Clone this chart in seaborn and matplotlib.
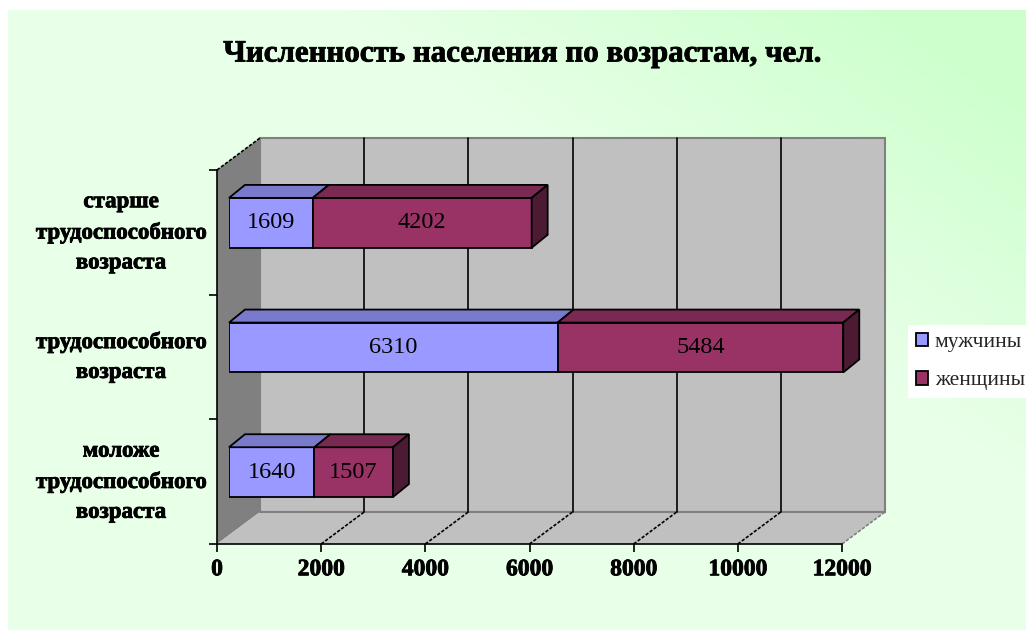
import numpy as np
import pandas as pd
import matplotlib
matplotlib.use('Agg')
import matplotlib.pyplot as plt
import matplotlib.patheffects as pe
from matplotlib.patches import Polygon
from matplotlib.transforms import IdentityTransform
import seaborn as sns

# Data
categories = ['старше\nтрудоспособного\nвозраста', 'трудоспособного\nвозраста', 'моложе\nтрудоспособного\nвозраста']
men = [1609, 6310, 1640]
women = [4202, 5484, 1507]
series_names = ['мужчины', 'женщины']
x_ticks = [0, 2000, 4000, 6000, 8000, 10000, 12000]
title = 'Численность населения по возрастам, чел.'

W, H = 1026, 632
men_color = '#9999FF'
women_color = '#993366'
wall = '#C0C0C0'
side_wall = '#808080'
heavy = [pe.withStroke(linewidth=0.6, foreground='black')]

sns.set_theme(style='white')
plt.rcParams['font.family'] = ['Liberation Serif', 'DejaVu Serif']

df = pd.DataFrame({'category': categories, 'men': men, 'women': women})

fig = plt.figure(figsize=(W / 100, H / 100), dpi=100, facecolor='white')


def axes_px(left, top, right, bottom):
    return [left / W, 1 - bottom / H, (right - left) / W, (bottom - top) / H]


# background gradient, greenest in the top right corner
bg = fig.add_axes(axes_px(8, 10, W, 630), zorder=0)
xx, yy = np.meshgrid(np.linspace(0, 1, 200), np.linspace(0, 1, 120))
t = np.clip(1.8 * xx - 1.6 * yy - 0.6, 0, 1)
pale = np.array([232, 255, 232]) / 255
green = np.array([204, 255, 204]) / 255
bg.imshow(pale + (green - pale) * t[..., None], aspect='auto', origin='upper')
bg.axis('off')

# front plane of the chart, carries the ticks
ax = fig.add_axes(axes_px(217, 170, 842, 544), zorder=1)
ax.patch.set_alpha(0)
ax.set_xlim(0, 12000)
ax.set_ylim(2.5, -0.5)
ax.set_yticks([-0.5, 0.5, 1.5, 2.5])
ax.set_yticklabels([])
ax.set_xticks(x_ticks)
ax.set_xticklabels([str(v) for v in x_ticks], fontsize=17, fontweight='bold', color='black')
ax.tick_params(axis='x', length=6, width=1.2, color='black', pad=5, bottom=True)
ax.tick_params(axis='y', length=6, width=1.2, color='black', left=True)
for s in ['top', 'right']:
    ax.spines[s].set_visible(False)
for s in ['left', 'bottom']:
    ax.spines[s].set_color('black')
    ax.spines[s].set_linewidth(1.2)
for lab in ax.get_xticklabels():
    lab.set_path_effects(heavy)
for i, c in enumerate(categories):
    ax.annotate(c, xy=(0, i), xycoords=('axes fraction', 'data'), xytext=(-96, 0),
                textcoords='offset pixels', ha='center', va='center', fontsize=16.5,
                fontweight='bold', color='black', linespacing=1.55, path_effects=heavy)

# walls and floor, in pixels from the front plane corners
dx, dy = 43, 32
to_px = ax.transData.transform
pix = IdentityTransform()


def face(a, pts, fc, ec='none', lw=0.0, z=1):
    a.add_patch(Polygon(pts, closed=True, facecolor=fc, edgecolor=ec, linewidth=lw, zorder=z,
                        transform=pix, clip_on=False))


x0, y_low = to_px((0, 2.5))
x1, _ = to_px((12000, 2.5))
_, y_high = to_px((0, -0.5))
face(ax, [(x0 + dx, y_low + dy), (x1 + dx, y_low + dy), (x1 + dx, y_high + dy), (x0 + dx, y_high + dy)], wall, '#808080', 1.5, 0.5)
face(ax, [(x0, y_low), (x0 + dx, y_low + dy), (x0 + dx, y_high + dy), (x0, y_high)], side_wall, z=0.6)
face(ax, [(x0, y_low), (x1, y_low), (x1 + dx, y_low + dy), (x0 + dx, y_low + dy)], wall, z=0.6)
ax.plot([x0, x0 + dx], [y_high, y_high + dy], color='black', lw=1.2, ls=(0, (2, 1)), transform=pix, clip_on=False, zorder=1)
ax.plot([x0 + dx, x1 + dx], [y_low + dy, y_low + dy], color='#808080', lw=1.5, transform=pix, clip_on=False, zorder=0.7)
ax.plot([x1, x1 + dx], [y_low, y_low + dy], color='#808080', lw=1.2, ls=(0, (2, 1)), transform=pix, clip_on=False, zorder=1)
for v in x_ticks[1:-1]:
    px, _ = to_px((v, 2.5))
    ax.plot([px, px + dx], [y_low, y_low + dy], color='black', lw=1.2, ls=(0, (2, 1)), transform=pix, clip_on=False, zorder=1)
    ax.plot([px + dx, px + dx], [y_low + dy, y_high + dy], color='black', lw=1.2, transform=pix, clip_on=False, zorder=1)

# bars sit partway into the depth, so their axes is the front plane shifted
ax_bars = fig.add_axes(axes_px(229, 160.5, 854, 534.5), zorder=2)
ax_bars.patch.set_alpha(0)
sns.barplot(data=df, y='category', x='men', color=men_color, saturation=1, width=0.4, ax=ax_bars,
            edgecolor='black', linewidth=1.3, orient='h')
sns.barplot(data=df, y='category', x='women', left=df['men'], color=women_color, saturation=1, width=0.4, ax=ax_bars,
            edgecolor='black', linewidth=1.3, orient='h')
ax_bars.set_xlim(0, 12000)
ax_bars.set_ylim(2.5, -0.5)
ax_bars.axis('off')

bar_dx, bar_dy = 16, 13
top_colors = {men_color: '#7A7ACC', women_color: '#7A2952'}
side_colors = {men_color: '#4D4D80', women_color: '#4D1A33'}
fig.canvas.draw()
for k, bar in enumerate(ax_bars.patches):
    is_men = k < len(categories)
    col = men_color if is_men else women_color
    (bx0, by0), (bx1, by1) = ax_bars.transData.transform(
        [(bar.get_x(), bar.get_y() + bar.get_height()), (bar.get_x() + bar.get_width(), bar.get_y())])
    z = 3 if is_men else 3.5
    face(ax_bars, [(bx0, by1), (bx1, by1), (bx1 + bar_dx, by1 + bar_dy), (bx0 + bar_dx, by1 + bar_dy)], top_colors[col], 'black', 1.3, z)
    if not is_men:
        face(ax_bars, [(bx1, by0), (bx1 + bar_dx, by0 + bar_dy), (bx1 + bar_dx, by1 + bar_dy), (bx1, by1)], side_colors[col], 'black', 1.3, z)

for i in range(len(categories)):
    ax_bars.text(men[i] / 2, i, str(men[i]), ha='center', va='center', fontsize=17.5, color='black', zorder=5)
    ax_bars.text(men[i] + women[i] / 2, i, str(women[i]), ha='center', va='center', fontsize=17.5, color='black', zorder=5)

# legend
handles = [plt.Rectangle((0, 0), 1, 1, facecolor=c, edgecolor='black', linewidth=1.3) for c in [men_color, women_color]]
fig.legend(handles, series_names, loc='upper left', bbox_to_anchor=(908 / W, 1 - 325 / H),
           frameon=True, facecolor='white', edgecolor='none', framealpha=1, fancybox=False,
           fontsize=15.5, handlelength=0.6, handleheight=0.6, handletextpad=0.3,
           labelspacing=0.88, borderpad=0.35, borderaxespad=0)

fig.text(523 / W, 1 - 54 / H, title, ha='center', va='center', fontsize=22.3, fontweight='bold', color='black', path_effects=heavy)

fig.savefig('out.png', dpi=100, facecolor='white')
